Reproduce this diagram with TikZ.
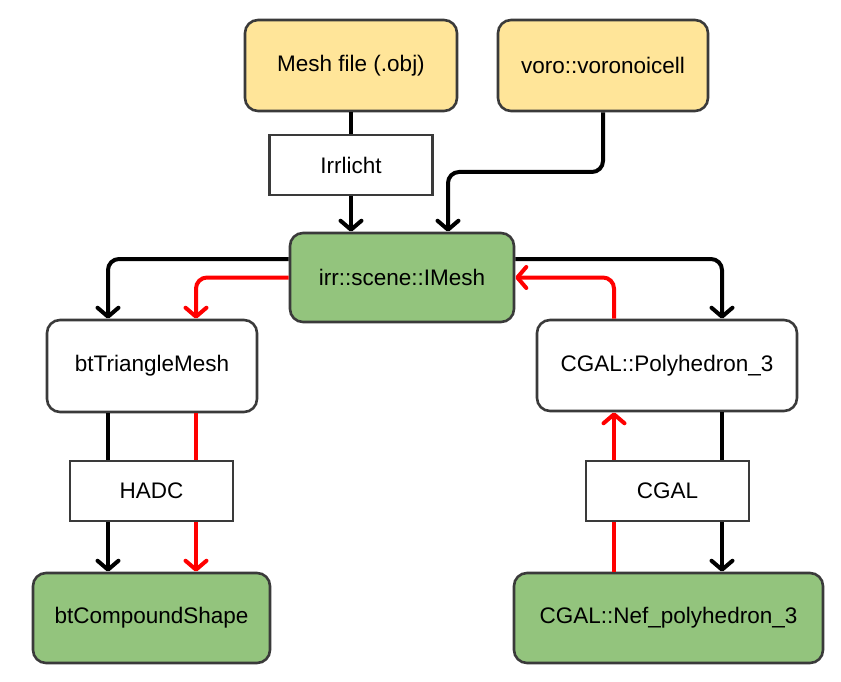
\documentclass[tikz,border=0pt]{standalone}
\usepackage{fontspec}
\setmainfont{Liberation Sans}
\usetikzlibrary{arrows.meta}
\definecolor{yel}{HTML}{FFE599}
\definecolor{grn}{HTML}{93C47D}
\definecolor{brd}{HTML}{3A3A3A}
\definecolor{rd}{HTML}{FF0000}
\begin{document}
\begin{tikzpicture}[x=1pt,y=-1pt,
  font=\fontsize{22.5}{27}\selectfont,
  box/.style={draw=brd,line width=2.6pt,rounded corners=13pt,inner sep=0pt},
  lbl/.style={draw=brd,line width=2.6pt,fill=white,inner sep=0pt,minimum width=163pt,minimum height=60pt},
  conn/.style={line width=4pt,rounded corners=11pt,-{Straight Barb[length=9pt,width=21pt,line join=round,line cap=round]}},
  blk/.style={conn,draw=black},
  redc/.style={conn,draw=rd}]
\useasboundingbox (0,0) rectangle (841,682);
\node[box,fill=yel,minimum width=212pt,minimum height=91pt] (mesh) at (351,65.5) {Mesh file (.obj)};
\node[box,fill=yel,minimum width=210pt,minimum height=91pt] (voro) at (603,65.5) {voro::voronoicell};
\node[box,fill=grn,minimum width=224pt,minimum height=89pt] (imesh) at (402,277.5) {irr::scene::IMesh};
\node[box,fill=white,minimum width=210pt,minimum height=92pt] (btm) at (152,366) {btTriangleMesh};
\node[box,fill=white,minimum width=260pt,minimum height=91pt] (poly) at (667,365.5) {CGAL::Polyhedron\_3};
\node[box,fill=grn,minimum width=237pt,minimum height=90pt] (comp) at (151.5,618) {btCompoundShape};
\node[box,fill=grn,minimum width=309pt,minimum height=90pt] (nef) at (668.5,618) {CGAL::Nef\_polyhedron\_3};
% helper coordinates
\coordinate (vturn) at (448,172);
\coordinate (bl) at ([xshift=-44pt]btm.south);
\coordinate (br) at ([xshift=44pt]btm.south);
\coordinate (pl) at ([xshift=-53pt]poly.south);
\coordinate (pr) at ([xshift=55pt]poly.south);
% connectors
\draw[blk] (mesh.south) -- (mesh.south |- imesh.north);
\draw[blk] (voro.south) |- (vturn) -- (vturn |- imesh.north);
\draw[blk] ([yshift=18.5pt]imesh.west) -| ([xshift=-44pt]btm.north);
\draw[redc] (imesh.west) -| ([xshift=44pt]btm.north);
\draw[blk] ([yshift=18.5pt]imesh.east) -| ([xshift=55pt]poly.north);
\draw[redc] ([xshift=-53pt]poly.north) |- (imesh.east);
\draw[blk] (bl) -- (bl |- comp.north);
\draw[redc] (br) -- (br |- comp.north);
\draw[blk] (pr) -- (pr |- nef.north);
\draw[redc] (pl |- nef.north) -- (pl);
% label boxes on top
\node[lbl] (irr) at (351,165) {Irrlicht};
\node[lbl] (hadc) at (151.5,491) {HADC};
\node[lbl] (cgal) at (667.5,491) {CGAL};
\end{tikzpicture}
\end{document}
